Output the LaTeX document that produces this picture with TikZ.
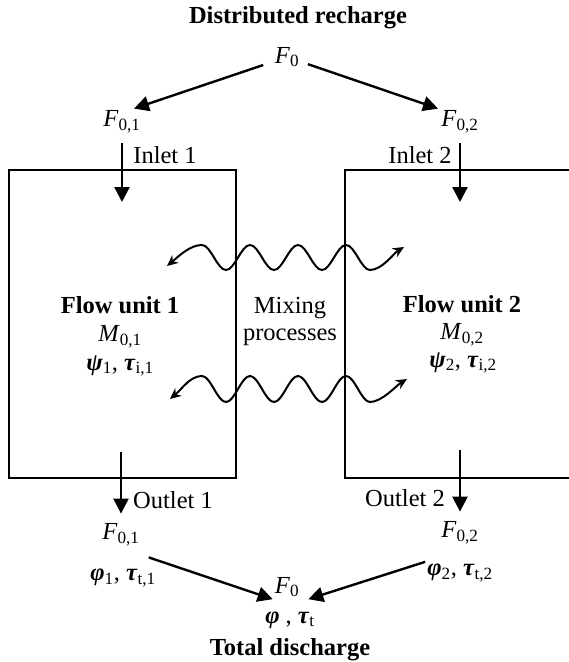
\documentclass[tikz,border=0pt]{standalone}
\usepackage{fontspec}
\setmainfont{Liberation Serif}
\usepackage{tikz}
\usetikzlibrary{arrows.meta}
\newcommand{\figfont}{\fontsize{24.5}{27}\selectfont}
\newcommand{\gvar}[1]{\textbf{\textit{#1}}}
\newcommand{\lowidx}[1]{\textsubscript{#1}}
\tikzstyle{txt} = [font=\figfont, inner sep=2pt, align=center]
\tikzstyle{unitbox} = [draw=black, line width=2pt, minimum width=227pt, minimum height=308pt]
\tikzstyle{arrow} = [line width=2.4pt, -{Triangle[length=15pt,width=15pt]}]
\tikzstyle{wave} = [line width=2pt, {Stealth[length=11pt,width=10pt]}-{Stealth[length=11pt,width=10pt]}]

\begin{document}
\begin{tikzpicture}[x=1pt, y=-1pt, >=Stealth]
\useasboundingbox (0,0) rectangle (569,662);

\node[unitbox] (unit1) at (122.5,324) {};
\node[unitbox, minimum width=260pt] (unit2) at (475,324) {};

\node[txt, font=\figfont\bfseries] (recharge) at (298,18) {Distributed recharge};
\node[txt] (F0t) at (287,57) {\textit{F}\lowidx{0}};
\node[txt] (F01t) at (122,122) {\textit{F}\lowidx{0,1}};
\node[txt] (F02t) at (460,122) {\textit{F}\lowidx{0,2}};
\node[txt] (inlet1) at (165,155) {Inlet 1};
\node[txt] (inlet2) at (420,155) {Inlet 2};
\coordinate (in1) at (122,202);
\coordinate (in2) at (460,202);

\draw[arrow, shorten <=10pt] (F0t) -- ([xshift=12pt]F01t.north);
\draw[arrow, shorten <=7pt] (F0t) -- ([xshift=-22pt]F02t.north);
\draw[arrow, shorten <=8pt] (F01t) -- (in1);
\draw[arrow, shorten <=8pt] (F02t) -- (in2);

\node[txt, font=\figfont\bfseries] (name1) at (120,305) {Flow unit 1};
\node[txt] (M01) at (120,337) {\textit{M}\lowidx{0,1}};
\node[txt] (psi1) at (120,366) {\gvar{ψ}\lowidx{1}, \gvar{τ}\lowidx{i,1}};
\node[txt, font=\figfont\bfseries] (name2) at (462,304) {Flow unit 2};
\node[txt] (M02) at (462,335) {\textit{M}\lowidx{0,2}};
\node[txt] (psi2) at (463,363) {\gvar{ψ}\lowidx{2}, \gvar{τ}\lowidx{i,2}};
\node[txt] (mixing) at (290,321) {Mixing\\processes};

\coordinate (w1l) at (167,266);
\coordinate (w1r) at (404,247);
\coordinate (w2l) at (170,399);
\coordinate (w2r) at (407,379);
\draw[wave] (w1l) .. controls +(12,-10) and +(-12,0) .. (202,245)
  \foreach \k in {1,2,3} { cos ++(12,12.5) sin ++(12,12.5) cos ++(12,-12.5) sin ++(12,-12.5) }
  cos ++(12,12.5) sin ++(12,12.5) .. controls +(12,0) and +(-10,6) .. (w1r);
\draw[wave] (w2l) .. controls +(12,-10) and +(-12,0) .. (202,376)
  \foreach \k in {1,2,3} { cos ++(12,13) sin ++(12,13) cos ++(12,-13) sin ++(12,-13) }
  cos ++(12,13) sin ++(12,13) .. controls +(12,0) and +(-10,6) .. (w2r);

\coordinate (out1) at (121,452);
\coordinate (out2) at (460,450);
\node[txt] (outlet1) at (173,500) {Outlet 1};
\node[txt] (outlet2) at (405,498) {Outlet 2};
\node[txt] (F01b) at (121,535) {\textit{F}\lowidx{0,1}};
\node[txt] (phi1) at (123,578) {\gvar{φ}\lowidx{1}, \gvar{τ}\lowidx{t,1}};
\node[txt] (F02b) at (460,533) {\textit{F}\lowidx{0,2}};
\node[txt] (phi2) at (460,573) {\gvar{φ}\lowidx{2}, \gvar{τ}\lowidx{t,2}};
\node[txt] (F0b) at (287,587) {\textit{F}\lowidx{0}};
\node[txt] (phib) at (290,620) {\gvar{φ} , \gvar{τ}\lowidx{t}};
\node[txt, font=\figfont\bfseries] (discharge) at (290,650) {Total discharge};

\draw[arrow, shorten >=8pt] (out1) -- (F01b);
\draw[arrow, shorten >=8pt] (out2) -- (F02b);
\draw[arrow] ([shift={(7,9)}]F01b.south east) -- (F0b.south west);
\draw[arrow] (phi2.north west) -- ([xshift=7pt]F0b.south east);
\end{tikzpicture}
\end{document}
